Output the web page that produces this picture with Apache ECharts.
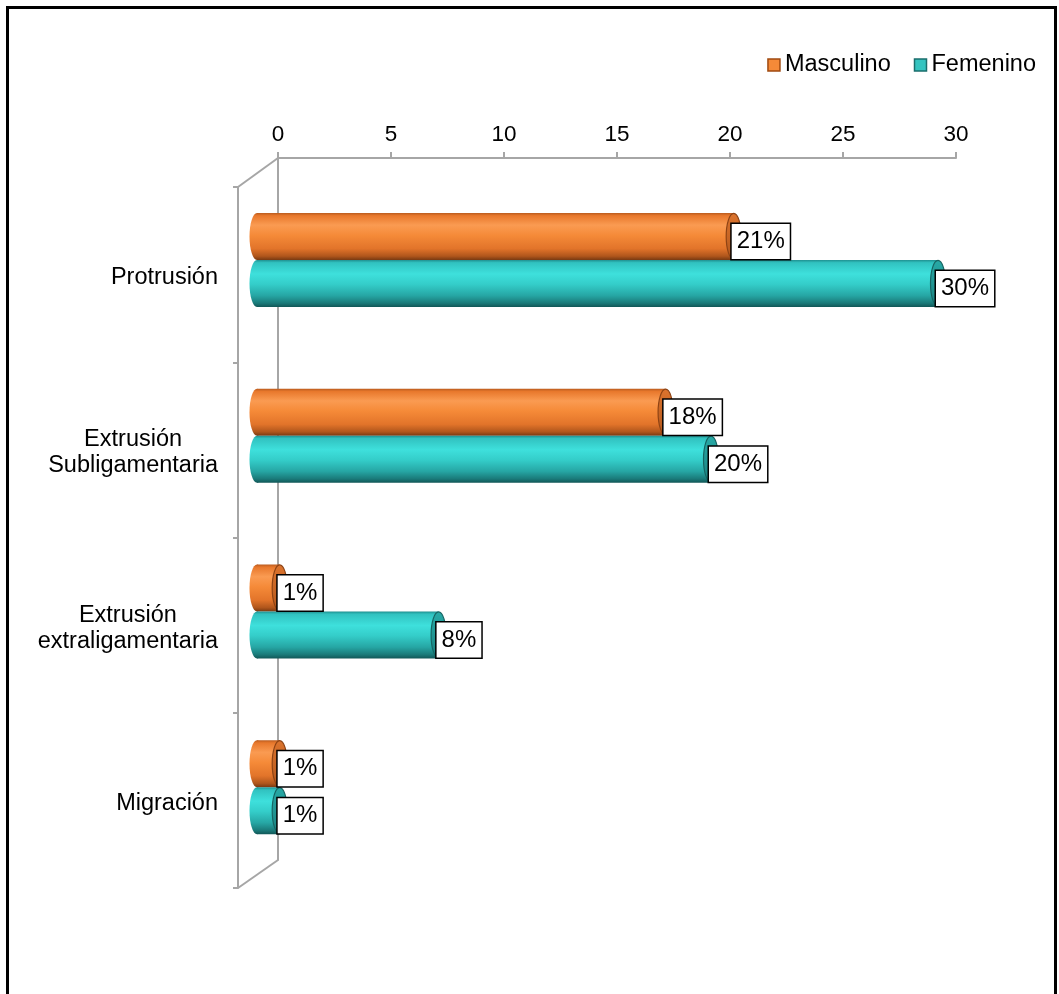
<!DOCTYPE html>
<html>
<head>
<meta charset="utf-8">
<script src="https://cdn.jsdelivr.net/npm/echarts@6/dist/echarts.min.js"></script>
<style>
  html, body { margin: 0; padding: 0; width: 1059px; height: 994px; overflow: hidden; background: #fff; }
  #frame { position: absolute; left: 6px; top: 6px; right: 2px; height: 1100px; border: 3px solid #000; box-sizing: border-box; }
  #chart { position: absolute; left: 0; top: 0; width: 1059px; height: 994px; }
</style>
</head>
<body>
<div id="frame"></div>
<div id="chart"></div>
<script>
// Hernia types by sex
const categories = ['Protrusión', 'Extrusión\nSubligamentaria', 'Extrusión\nextraligamentaria', 'Migración'];
const seriesNames = ['Masculino', 'Femenino'];
const masculino = [21, 18, 1, 1];
const femenino = [30, 20, 8, 1];
const axisMin = 0;
const axisMax = 30;
const axisStep = 5;

const FONT = "'Liberation Sans', Arial, sans-serif";
const W = 1059, H = 994;

// pseudo-3D box: back wall carries the value axis, front wall the categories
const BACK = { left: 278, right: 956, top: 158, bottom: 860 };
const FRONT = { left: 238, top: 187, bottom: 888 };
const BARS = { left: 257, right: 938, top: 172, bottom: 875 };
const BAR_H = 47;
const CAP_RX = 7.5;
const GRID_LINE = '#A6A6A6';

const palettes = [
  {
    body: [
      { offset: 0, color: '#B85A1E' }, { offset: 0.06, color: '#E8782C' },
      { offset: 0.26, color: '#FA9B52' }, { offset: 0.48, color: '#F58A38' },
      { offset: 0.76, color: '#E2742A' }, { offset: 0.92, color: '#B0561C' },
      { offset: 1, color: '#7A3A12' }
    ],
    cap: [{ offset: 0, color: '#DC742E' }, { offset: 1, color: '#B4581C' }],
    capStroke: '#8E4314',
    legend: '#F58A38', legendBorder: '#A04A10'
  },
  {
    body: [
      { offset: 0, color: '#1E8E8E' }, { offset: 0.06, color: '#31C2C0' },
      { offset: 0.3, color: '#3EE0DC' }, { offset: 0.52, color: '#34CDC9' },
      { offset: 0.76, color: '#26A6A4' }, { offset: 0.92, color: '#1A7A79' },
      { offset: 1, color: '#125858' }
    ],
    cap: [{ offset: 0, color: '#28AAA7' }, { offset: 1, color: '#1B8280' }],
    capStroke: '#176664',
    legend: '#34C4C0', legendBorder: '#1A6E6C'
  }
];

function cylinder(pal, side) {
  return function (params, api) {
    const v = api.value(0);
    const idx = api.value(1);
    const start = api.coord([0, idx]);
    const end = api.coord([v, idx]);
    const cy = start[1] + side * BAR_H / 2;
    const x0 = start[0], x1 = end[0];
    const top = cy - BAR_H / 2;
    const bodyFill = new echarts.graphic.LinearGradient(0, 0, 0, 1, pal.body);
    const capFill = new echarts.graphic.LinearGradient(0, 0, 0, 1, pal.cap);
    return {
      type: 'group',
      children: [
        { type: 'ellipse', shape: { cx: x0, cy: cy, rx: CAP_RX, ry: BAR_H / 2 }, style: { fill: bodyFill } },
        { type: 'rect', shape: { x: x0, y: top, width: Math.max(x1 - x0, 0), height: BAR_H }, style: { fill: bodyFill } },
        { type: 'ellipse', shape: { cx: x1, cy: cy, rx: CAP_RX, ry: BAR_H / 2 - 0.5 }, style: { fill: capFill, stroke: pal.capStroke, lineWidth: 1.2 } },
        {
          type: 'text', x: x1 - 2, y: cy + 5, z2: 100,
          style: {
            text: v + '%', fill: '#000', fontSize: 24, fontFamily: FONT,
            align: 'left', verticalAlign: 'middle', lineHeight: 24,
            backgroundColor: '#fff', borderColor: '#000', borderWidth: 1.5,
            padding: [6, 5, 5, 5]
          }
        }
      ]
    };
  };
}

const chart = echarts.init(document.getElementById('chart'), null, { renderer: 'canvas' });

const option = {
  animation: false,
  backgroundColor: 'transparent',
  textStyle: { fontFamily: FONT, color: '#000' },
  legend: {
    right: 18, top: 48, icon: 'rect', itemWidth: 12, itemHeight: 12, itemGap: 23,
    textStyle: { fontSize: 23.5, color: '#000', fontFamily: FONT },
    data: seriesNames.map((n, i) => ({
      name: n,
      itemStyle: { color: palettes[i].legend, borderColor: palettes[i].legendBorder, borderWidth: 1.5 }
    }))
  },
  grid: [
    { left: BACK.left, right: W - BACK.right, top: BACK.top, bottom: H - BACK.bottom },
    { left: BARS.left, right: W - BARS.right, top: BARS.top, bottom: H - BARS.bottom },
    { left: FRONT.left, width: 10, top: FRONT.top, bottom: H - FRONT.bottom }
  ],
  xAxis: [
    {
      gridIndex: 0, type: 'value', position: 'top', min: axisMin, max: axisMax, interval: axisStep,
      axisLine: { show: true, lineStyle: { color: GRID_LINE, width: 2 } },
      axisTick: { show: true, inside: false, length: 6, lineStyle: { color: GRID_LINE, width: 2 } },
      axisLabel: { fontSize: 22.5, color: '#000', margin: 12, fontFamily: FONT },
      splitLine: { show: false }
    },
    { gridIndex: 1, type: 'value', min: axisMin, max: axisMax, show: false },
    { gridIndex: 2, type: 'value', min: 0, max: 1, show: false }
  ],
  yAxis: [
    {
      gridIndex: 0, type: 'category', data: categories, inverse: true,
      axisLine: { show: true, lineStyle: { color: GRID_LINE, width: 2 } },
      axisTick: { show: false }, axisLabel: { show: false }, splitLine: { show: false }
    },
    { gridIndex: 1, type: 'category', data: categories, inverse: true, show: false },
    {
      gridIndex: 2, type: 'category', data: categories, inverse: true,
      axisLine: { show: true, lineStyle: { color: GRID_LINE, width: 2 } },
      axisTick: { show: true, length: 5, lineStyle: { color: GRID_LINE, width: 2 } },
      axisLabel: {
        fontSize: 23.5, color: '#000', margin: 20, align: 'right', fontFamily: FONT,
        padding: [6, 0, 0, 0],
        formatter: v => v.split('\n').map(s => '{c|' + s + '}').join('\n'),
        rich: { c: { align: 'center', fontSize: 23.5, lineHeight: 26, fontFamily: FONT, color: '#000' } }
      },
      splitLine: { show: false }
    }
  ],
  graphic: [
    {
      type: 'line', silent: true,
      shape: { x1: FRONT.left, y1: FRONT.top, x2: BACK.left, y2: BACK.top },
      style: { stroke: GRID_LINE, lineWidth: 2 }
    },
    {
      type: 'line', silent: true,
      shape: { x1: FRONT.left, y1: FRONT.bottom, x2: BACK.left, y2: BACK.bottom },
      style: { stroke: GRID_LINE, lineWidth: 2 }
    }
  ],
  series: [masculino, femenino].map((vals, i) => ({
    name: seriesNames[i],
    type: 'custom',
    xAxisIndex: 1, yAxisIndex: 1,
    itemStyle: { color: palettes[i].legend },
    encode: { x: 0, y: 1 },
    data: vals.map((v, k) => [v, k]),
    renderItem: cylinder(palettes[i], i === 0 ? -1 : 1)
  }))
};

chart.setOption(option);
</script>
</body>
</html>
